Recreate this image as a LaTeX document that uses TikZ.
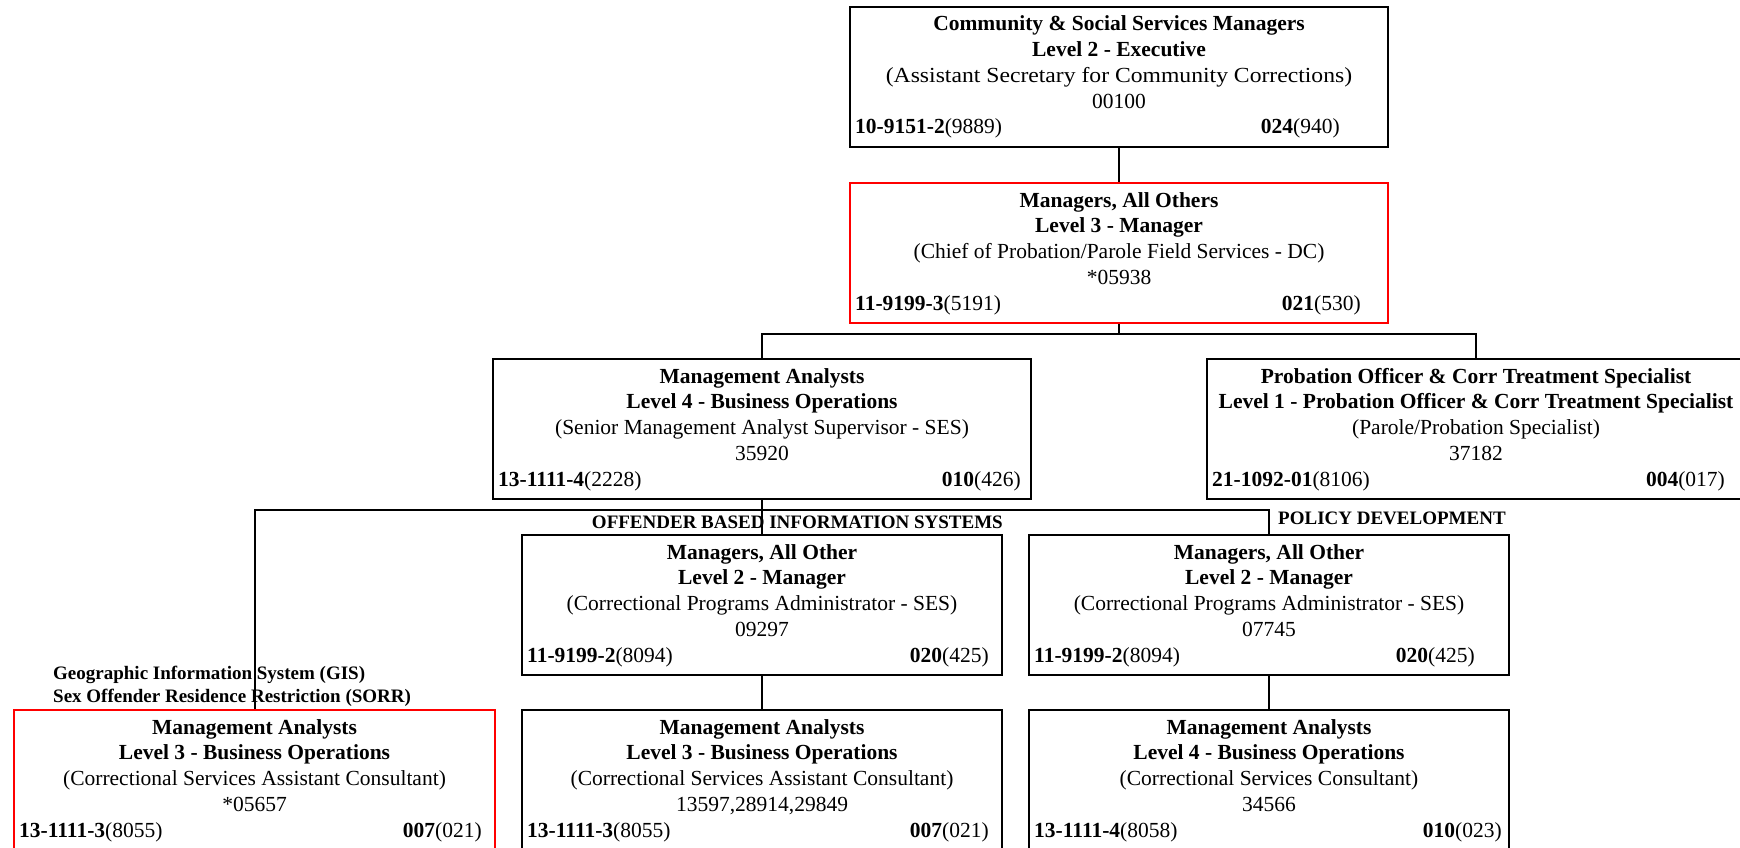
\documentclass[tikz,border=0pt]{standalone}
\usepackage{fontspec}
\usepackage{graphicx}
\setmainfont{Liberation Serif}
\usetikzlibrary{calc}

\tikzset{
  unitbox/.style={draw=black, line width=2pt, rectangle, minimum height=140pt,
                  inner sep=0pt, anchor=north west},
  hotbox/.style={unitbox, draw=red},
  boxtxt/.style={inner sep=0pt, font=\fontsize{21.5}{25.75}\selectfont},
  boxhead/.style={inner sep=0pt, font=\fontsize{21.5}{25.75}\selectfont\bfseries},
  unitlab/.style={inner sep=0pt, font=\fontsize{19}{23}\selectfont\bfseries},
  conn/.style={draw=black, line width=2pt},
}

% a position box: name, style, left, top, width, title, level, working title, position numbers
\newcommand{\unitpos}[9]{%
  \node[#2, minimum width=#5pt] (#1) at (#3,#4) {};
  \node[boxhead, anchor=base] (#1-a) at ($(#1.north)+(0,25)$) {#6};
  \node[boxhead, anchor=base] (#1-b) at ($(#1.north)+(0,50.75)$) {#7};
  \node[boxtxt, anchor=base] (#1-c) at ($(#1.north)+(0,76.5)$) {#8};
  \node[boxtxt, anchor=base] (#1-d) at ($(#1.north)+(0,102.25)$) {#9};
}
% bottom line of a position box: class code, class number, pay code, pay number, right inset
\newcommand{\unitcodes}[6]{%
  \node[boxtxt, anchor=base west] (#1-l) at ($(#1.north west)+(6,128)$) {\textbf{#2}(#3)};
  \node[boxtxt, anchor=base east] (#1-r) at ($(#1.north east)+(-#6,128)$) {\textbf{#4}(#5)};
}

\begin{document}
\begin{tikzpicture}[x=1pt, y=-1pt]
\useasboundingbox (0,0) rectangle (1740,848);
\fill[white] (0,0) rectangle (1740,848);

% executive
\unitpos{exec}{unitbox}{849}{6}{538}{Community \& Social Services Managers}{Level 2 - Executive}{\scalebox{1.1}[1]{(Assistant Secretary for Community Corrections)}}{00100}
\unitcodes{exec}{10-9151-2}{9889}{024}{940}{49}

% chief
\unitpos{chief}{hotbox}{849}{182}{538}{Managers, All Others}{Level 3 - Manager}{(Chief of Probation/Parole Field Services - DC)}{*05938}
\unitcodes{chief}{11-9199-3}{5191}{021}{530}{28}

% second row
\unitpos{senior}{unitbox}{492}{358}{538}{Management Analysts}{Level 4 - Business Operations}{(Senior Management Analyst Supervisor - SES)}{35920}
\unitcodes{senior}{13-1111-4}{2228}{010}{426}{11}

\unitpos{parole}{unitbox}{1206}{358}{538}{Probation Officer \& Corr Treatment Specialist}{Level 1 - Probation Officer \& Corr Treatment Specialist}{(Parole/Probation Specialist)}{37182}
\unitcodes{parole}{21-1092-01}{8106}{004}{017}{21}

% section heads
\unitpos{obis}{unitbox}{521}{534}{480}{Managers, All Other}{Level 2 - Manager}{(Correctional Programs Administrator - SES)}{09297}
\unitcodes{obis}{11-9199-2}{8094}{020}{425}{14}

\unitpos{policy}{unitbox}{1028}{534}{480}{Managers, All Other}{Level 2 - Manager}{(Correctional Programs Administrator - SES)}{07745}
\unitcodes{policy}{11-9199-2}{8094}{020}{425}{35}

% bottom row
\unitpos{gis}{hotbox}{13}{709}{481}{Management Analysts}{Level 3 - Business Operations}{(Correctional Services Assistant Consultant)}{*05657}
\unitcodes{gis}{13-1111-3}{8055}{007}{021}{14}

\unitpos{obisma}{unitbox}{521}{709}{480}{Management Analysts}{Level 3 - Business Operations}{(Correctional Services Assistant Consultant)}{13597,28914,29849}
\unitcodes{obisma}{13-1111-3}{8055}{007}{021}{14}

\unitpos{policyma}{unitbox}{1028}{709}{480}{Management Analysts}{Level 4 - Business Operations}{(Correctional Services Consultant)}{34566}
\unitcodes{policyma}{13-1111-4}{8058}{010}{023}{8}

% section labels
\node[unitlab, anchor=base east] (obislab) at (1003,528) {OFFENDER BASED INFORMATION SYSTEMS};
\node[unitlab, anchor=base west] (pollab) at (1278,524) {POLICY DEVELOPMENT};
\node[unitlab, anchor=base west] (gislab1) at (53,679) {Geographic Information System (GIS)};
\node[unitlab, anchor=base west] (gislab2) at (53,702) {Sex Offender Residence Restriction (SORR)};

% reporting lines
\coordinate (j1) at ($(chief.south)+(0,10)$);
\coordinate (j2) at ($(senior.south)+(0,10)$);
\draw[conn] (exec.south) -- (chief.north);
\draw[conn] (chief.south) -- (j1);
\draw[conn] (senior.north) |- (j1) -| (parole.north);
\draw[conn] (senior.south) -- (obis.north);
\draw[conn] (gis.north) |- (j2) -| (policy.north);
\draw[conn] (obis.south) -- (obisma.north);
\draw[conn] (policy.south) -- (policyma.north);
\end{tikzpicture}
\end{document}
